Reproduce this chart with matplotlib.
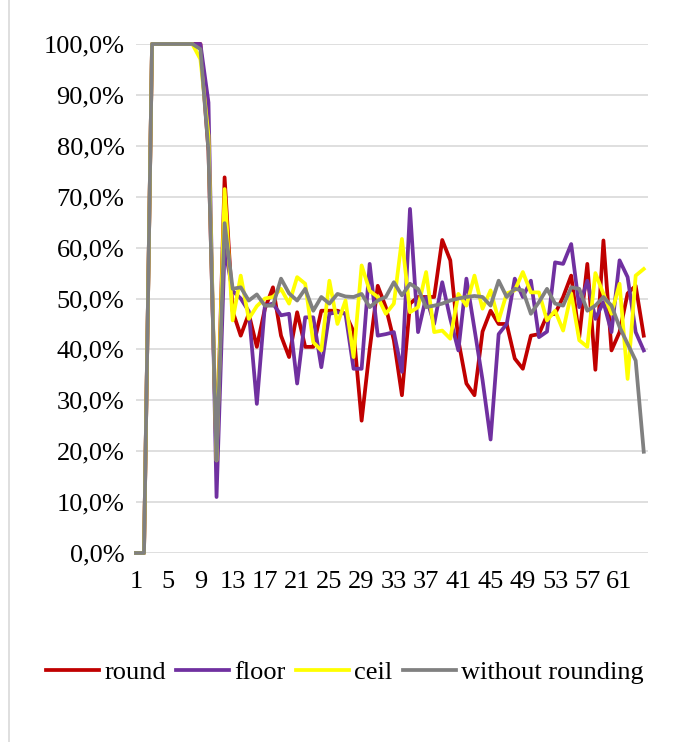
import numpy as np
import matplotlib
matplotlib.use("Agg")
import matplotlib.pyplot as plt
from matplotlib.ticker import FuncFormatter
from matplotlib.lines import Line2D

plt.rcParams['font.family'] = ['Liberation Serif', 'DejaVu Serif']

x = np.arange(1, 65)

round_vals = [0, 0, 100, 100, 100, 100, 100, 100, 100, 79,
              18.5, 73.8, 47.5, 42.7, 47, 40.5, 48, 52.2, 42.7, 38.5,
              47.3, 40.5, 40.5, 47.6, 47.6, 47.6, 47, 43.5, 26, 40,
              52.5, 48.3, 41.8, 31, 49, 50.3, 50.3, 50.3, 61.5, 57.5,
              41.8, 33.3, 31, 43.5, 47.6, 45, 45, 38.2, 36.2, 42.7,
              43, 46.7, 47, 50.3, 54.5, 42.4, 56.8, 36, 61.4, 39.8,
              43.4, 51, 52.5, 42.7]
floor_vals = [0, 0, 100, 100, 100, 100, 100, 100, 100, 88.5,
              11, 60, 51.5, 50, 47.5, 29.3, 48.6, 49, 46.7, 47,
              33.3, 46.3, 46.3, 36.5, 47, 47.3, 47, 36.2, 36.2, 56.8,
              42.7, 43, 43.4, 35.6, 67.6, 43.4, 50.3, 45, 53.2, 46,
              39.8, 53.9, 44, 34, 22.3, 43, 45, 53.9, 50.3, 53.5,
              42.4, 43.5, 57.1, 56.8, 60.7, 48.3, 53.5, 46, 49.3, 43.4,
              57.5, 54.2, 43.4, 39.8]
ceil_vals = [0, 0, 100, 100, 100, 100, 100, 100, 97, 82,
             18.2, 71.5, 45.7, 54.5, 46, 48.5, 50, 50.3, 51.9, 49,
             54.2, 52.9, 41.4, 39.8, 53.5, 45, 49.6, 38.5, 56.5, 51.5,
             50.3, 47, 49, 61.7, 47.3, 48.3, 55.2, 43.4, 43.7, 42.1,
             50.9, 48.6, 54.5, 48, 51.6, 45.7, 51, 51.6, 55.2, 51.2,
             51.2, 45.7, 47.6, 43.7, 51, 41.8, 40.5, 55, 50.9, 47,
             52.9, 34.2, 54.5, 55.8]
exact_vals = [0, 0, 100, 100, 100, 100, 100, 100, 99, 79,
              18.2, 64.8, 51.9, 52.2, 49.6, 50.8, 48.6, 48.6, 53.9, 51,
              49.6, 51.9, 47.6, 50.3, 49, 50.9, 50.4, 50.3, 50.9, 48.3,
              49.6, 50.3, 53.2, 50.6, 52.9, 51.9, 48.3, 48.6, 49, 49.6,
              50, 50.3, 50.5, 50.3, 48.6, 53.5, 50.3, 51.9, 51.6, 47,
              49.3, 51.9, 49, 48.6, 52.2, 51.9, 47.6, 48.6, 50.3, 48.6,
              44.4, 41.1, 37.8, 19.9]

series = [("round", round_vals, "#C00000"),
          ("floor", floor_vals, "#7030A0"),
          ("ceil", ceil_vals, "#FFFF00"),
          ("without rounding", exact_vals, "#808080")]

fig = plt.figure(figsize=(6.79, 7.42), dpi=100)
ax = fig.add_axes([0.1996, 0.2547, 0.7544, 0.686])

for name, vals, col in series:
    ax.plot(x, vals, color=col, lw=2.7, label=name, clip_on=False,
            solid_joinstyle='round')

ax.set_xlim(0.95, 64.5)
ax.set_ylim(0, 100)
ax.set_yticks(np.arange(0, 101, 10))
ax.set_xticks(np.arange(1, 65, 4))
ax.yaxis.set_major_formatter(FuncFormatter(lambda v, p: f"{v:.1f}%".replace(".", ",")))
ax.grid(axis='y', color='#D9D9D9', lw=1.2)
ax.set_axisbelow(True)
for s in ax.spines.values():
    s.set_visible(False)
ax.tick_params(axis='both', length=0, labelsize=19, colors='black')
ax.tick_params(axis='y', pad=8)
ax.tick_params(axis='x', pad=13)

handles = [Line2D([], [], color=c, lw=2.7) for _, _, c in series]
fig.legend(handles, [n for n, _, _ in series], loc='center',
           bbox_to_anchor=(0.508, 0.094), ncol=4, frameon=False,
           fontsize=19, handlelength=2.0, handletextpad=0.2,
           columnspacing=0.4)

fig.add_artist(Line2D([9 / 679, 9 / 679], [0, 1], color='#D9D9D9', lw=1.2,
                      transform=fig.transFigure))

fig.savefig("out.png", dpi=100)
